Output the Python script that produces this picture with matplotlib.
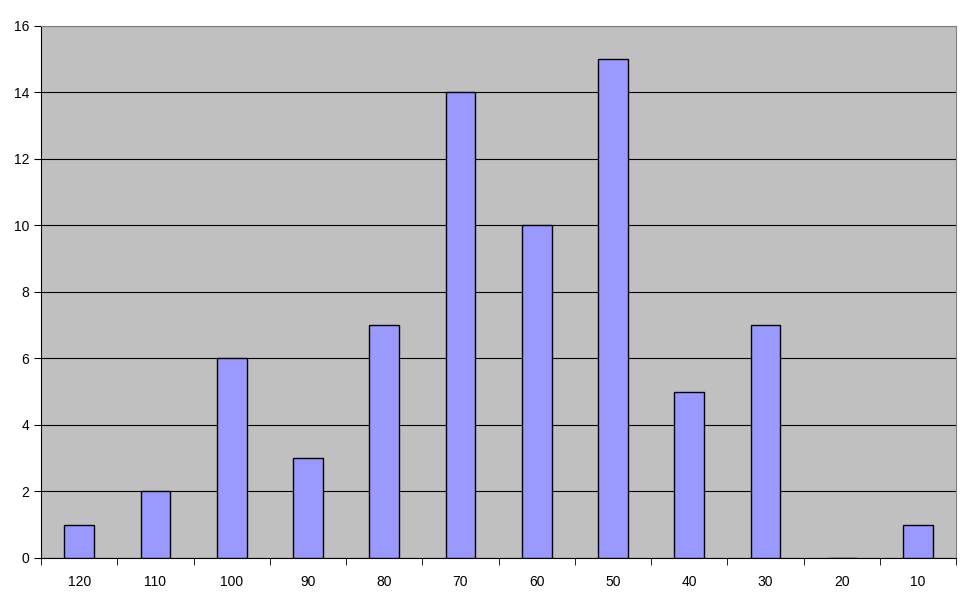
import matplotlib

matplotlib.use("Agg")
import matplotlib.pyplot as plt
import numpy as np

categories = ["120", "110", "100", "90", "80", "70", "60", "50", "40", "30", "20", "10"]
counts = [1, 2, 6, 3, 7, 14, 10, 15, 5, 7, 0, 1]

plt.rcParams["font.family"] = ["Liberation Sans", "DejaVu Sans"]

fig = plt.figure(figsize=(9.7, 6.04), dpi=100)
ax = fig.add_axes([0.0423, 0.0762, 0.9433, 0.8808])
ax.set_facecolor("#c0c0c0")

x = np.arange(len(categories))
ax.bar(x, counts, width=0.39, color="#9999ff", edgecolor="black", linewidth=1, zorder=3)

ax.set_xlim(-0.5, len(categories) - 0.5)
ax.set_ylim(0, 16)
ax.set_yticks(range(0, 17, 2))
ax.yaxis.grid(True, color="black", linewidth=0.8, zorder=1)

ax.set_xticks(x)
ax.set_xticklabels(categories, fontsize=10)
ax.set_xticks(np.arange(-0.5, len(categories)), minor=True)
ax.tick_params(axis="x", which="major", length=0, pad=12)
ax.tick_params(axis="x", which="minor", length=5, direction="out", color="black")
ax.tick_params(axis="y", length=5, direction="out", labelsize=10)

for side in ("top", "right"):
    ax.spines[side].set_color("#808080")
for side in ("left", "bottom"):
    ax.spines[side].set_color("black")

fig.savefig("out.png", dpi=100)
